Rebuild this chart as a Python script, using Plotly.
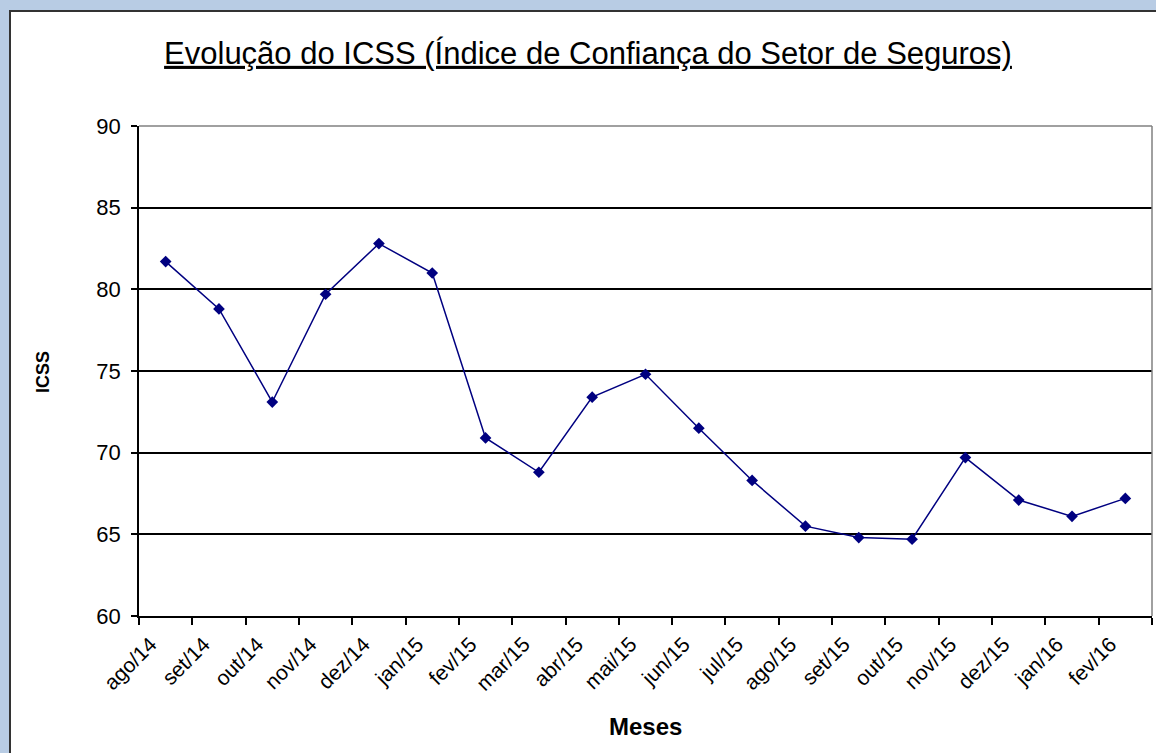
import plotly.graph_objects as go

months = ["ago/14", "set/14", "out/14", "nov/14", "dez/14", "jan/15", "fev/15",
          "mar/15", "abr/15", "mai/15", "jun/15", "jul/15", "ago/15", "set/15",
          "out/15", "nov/15", "dez/15", "jan/16", "fev/16"]
icss = [81.7, 78.8, 73.1, 79.7, 82.8, 81.0, 70.9, 68.8, 73.4, 74.8, 71.5,
        68.3, 65.5, 64.8, 64.7, 69.7, 67.1, 66.1, 67.2]
y_ticks = [60, 65, 70, 75, 80, 85, 90]

title_text = "<u>Evolução do ICSS (Índice de Confiança do Setor de Seguros)</u>"
x_title = "<b>Meses</b>"
y_title = "<b>ICSS</b>"

fig = go.Figure()
fig.add_trace(go.Scatter(
    x=months, y=icss, mode="lines+markers",
    line=dict(color="#000080", width=1.5),
    marker=dict(symbol="diamond", size=9, color="#000080"),
    showlegend=False,
))

W, H = 1156, 753
L, R, T, B = 139, 1152, 126, 616
pw, ph = R - L, B - T

def px(x):
    return (x - L) / pw

def py(y):
    return (B - y) / ph

fig.update_layout(
    width=W, height=H,
    margin=dict(l=L, r=W - R, t=T, b=H - B),
    paper_bgcolor="#b8cce4",
    plot_bgcolor="white",
    font=dict(family="Arial, Liberation Sans, sans-serif", color="black"),
    title=dict(text=title_text, x=588 / W, xanchor="center", xref="container",
               y=1 - 53 / H, yanchor="middle", yref="container",
               font=dict(size=31, color="black")),
    xaxis=dict(
        type="category", tickangle=-45, tickson="boundaries",
        ticks="outside", ticklen=7, tickcolor="black", tickwidth=1.5,
        showline=True, linecolor="black", linewidth=1.5,
        showgrid=False, tickfont=dict(size=21), range=[-0.5, 18.5],
        ticklabelshift=-15, ticklabelstandoff=6,
    ),
    yaxis=dict(
        range=[60, 90], tickvals=y_ticks, ticks="outside", ticklen=6,
        tickcolor="black", tickwidth=1.5,
        showline=True, linecolor="black", linewidth=1.5,
        showgrid=True, gridcolor="black", gridwidth=1.6,
        tickfont=dict(size=22), zeroline=False, ticklabelstandoff=6,
    ),
    shapes=[
        dict(type="rect", xref="paper", yref="paper",
             x0=px(10), x1=px(1175), y0=py(770), y1=py(11),
             fillcolor="white", line=dict(color="#333333", width=2),
             layer="below"),
        dict(type="line", xref="paper", yref="paper", x0=0, x1=1, y0=1, y1=1,
             line=dict(color="#808080", width=1.5), layer="above"),
        dict(type="line", xref="paper", yref="paper", x0=1, x1=1, y0=0, y1=1,
             line=dict(color="#808080", width=1.5), layer="above"),
    ],
    annotations=[
        dict(text=x_title, xref="paper", yref="paper", x=px(645), y=py(726),
             showarrow=False, font=dict(size=24), xanchor="center", yanchor="middle"),
        dict(text=y_title, xref="paper", yref="paper", x=px(43), y=py(372),
             showarrow=False, font=dict(size=18), textangle=-90,
             xanchor="center", yanchor="middle"),
    ],
)

fig.write_html("out.html", config={"displayModeBar": False},
               post_script="document.body.style.margin='0';document.body.style.padding='0';")
